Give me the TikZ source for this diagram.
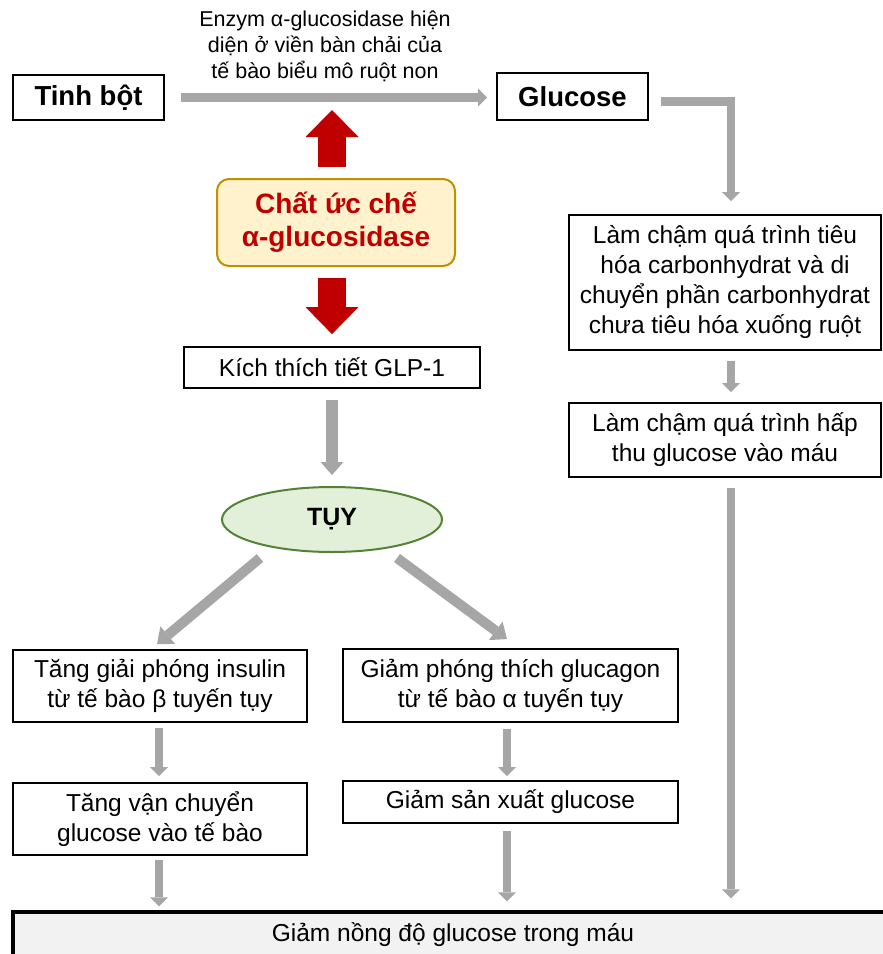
\documentclass[tikz,border=0pt]{standalone}
\usepackage{fontspec}
\setmainfont{Liberation Sans}
\usetikzlibrary{calc}
\usetikzlibrary{arrows.meta}
\usetikzlibrary {shapes.geometric}

\definecolor{flowgray}{HTML}{A6A6A6}
\definecolor{inhibred}{HTML}{C00000}
\definecolor{inhibfill}{HTML}{FFF2CC}
\definecolor{inhibline}{HTML}{BF9000}
\definecolor{tuyfill}{HTML}{E2F0D9}
\definecolor{tuyline}{HTML}{548235}
\definecolor{bloodfill}{HTML}{F2F2F2}

\tikzset{
    textbox/.style={draw=black, line width=1.8pt, fill=white, inner sep=0pt, align=center,
        font=\fontsize{24.5}{30}\selectfont},
    titlebox/.style={textbox, font=\fontsize{27.5}{33}\selectfont\bfseries},
    flowarrow/.style={draw=flowgray, line width=8.5pt, line join=miter,
        -{Triangle[width=18pt,length=9pt,line width=0pt]}},
    bigflow/.style={draw=flowgray, line width=12pt,
        -{Triangle[width=23pt,length=13pt,line width=0pt]}},
    sideflow/.style={draw=flowgray, line width=10pt,
        -{Triangle[width=23pt,length=14pt,line width=0pt]}},
    redarrow/.style={draw=inhibred, line width=28pt,
        -{Triangle[width=53pt,length=27pt,line width=0pt]}},
}

\begin{document}
\begin{tikzpicture}[x=1pt, y=-1pt]
    % Page of the reference
    \useasboundingbox (0,0) rectangle (883,954);
    \clip (0,0) rectangle (883,954);

    % Top row
    \node[titlebox, minimum width=151pt, minimum height=45pt] (tinh) at (88.5,97.5) {Tinh bột};
    \node[titlebox, minimum width=151pt, minimum height=47pt] (glucose) at (572.5,96.5) {Glucose};
    \node[align=center, font=\fontsize{21.5}{26}\selectfont] (enzym) at (325,46)
        {Enzym α-glucosidase hiện\\diện ở viền bàn chải của\\tế bào biểu mô ruột non};

    % Inhibitor and GLP-1
    \node[draw=inhibline, fill=inhibfill, line width=2pt, rounded corners=12pt,
        minimum width=238pt, minimum height=87pt, inner sep=0pt, align=center, text=inhibred,
        font=\fontsize{28}{33}\selectfont\bfseries] (inhib) at (336,222.5) {Chất ức chế\\α-glucosidase};
    \node[textbox, minimum width=296pt, minimum height=41pt] (glp) at (332,367.5) {Kích thích tiết GLP-1};
    \node[ellipse, draw=tuyline, fill=tuyfill, line width=2pt, minimum width=220pt,
        minimum height=65pt, inner sep=0pt, font=\fontsize{25}{30}\selectfont\bfseries] (tuy) at (332,519.5) {TỤY};

    % Right column
    \node[textbox, minimum width=312pt, minimum height=135pt] (slow1) at (725,282.5)
        {Làm chậm quá trình tiêu\\hóa carbonhydrat và di\\chuyển phần carbonhydrat\\chưa tiêu hóa xuống ruột};
    \node[textbox, minimum width=312pt, minimum height=74pt] (slow2) at (725,440)
        {Làm chậm quá trình hấp\\thu glucose vào máu};

    % Pancreas branches
    \node[textbox, minimum width=294pt, minimum height=72pt] (insulin) at (160,686)
        {Tăng giải phóng insulin\\từ tế bào β tuyến tụy};
    \node[textbox, minimum width=294pt, minimum height=72pt] (transport) at (160,819)
        {Tăng vận chuyển\\glucose vào tế bào};
    \node[textbox, minimum width=335pt, minimum height=73pt] (glucagon) at (510.5,685.5)
        {Giảm phóng thích glucagon\\từ tế bào α tuyến tụy};
    \node[textbox, minimum width=335pt, minimum height=42pt] (reduce) at (510.5,802)
        {Giảm sản xuất glucose};

    % Result
    \node[textbox, line width=3.5pt, fill=bloodfill, minimum width=880pt, minimum height=46pt] (blood) at (453,935)
        {Giảm nồng độ glucose trong máu};

    % Gray arrows
    \draw[flowarrow, shorten <=16pt, shorten >=9pt] (tinh.east) -- (tinh.east -| glucose.west);
    \draw[flowarrow] ([shift={(12,5)}]glucose.east) -| ([shift={(6,-13)}]slow1.north);
    \draw[flowarrow, shorten <=10pt, shorten >=10pt] ([xshift=6pt]slow1.south) -- ([xshift=6pt]slow2.north);
    \draw[flowarrow, shorten <=10pt, shorten >=12pt] ([xshift=6pt]slow2.south) -- ([xshift=6pt]slow2.south |- blood.north);
    \draw[bigflow, shorten <=11pt, shorten >=11pt] (glp.south) -- (tuy.north);
    \draw[sideflow] ($(tuy.center)+(-72,38.5)$) -- ($(insulin.north)+(-3,-5)$);
    \draw[sideflow] ($(tuy.center)+(65,38.5)$) -- ($(glucagon.north)+(-3.5,-9)$);
    \draw[flowarrow, shorten <=5pt, shorten >=6pt] ([xshift=-1pt]insulin.south) -- ([xshift=-1pt]transport.north);
    \draw[flowarrow, shorten <=4pt, shorten >=4pt] ([xshift=-1pt]transport.south) -- ([xshift=-1pt]transport.south |- blood.north);
    \draw[flowarrow, shorten <=6pt, shorten >=4pt] ([xshift=-3.5pt]glucagon.south) -- ([xshift=-3.5pt]reduce.north);
    \draw[flowarrow, shorten <=7pt, shorten >=9pt] ([xshift=-3.5pt]reduce.south) -- ([xshift=-3.5pt]reduce.south |- blood.north);

    % Red arrows of the inhibitor
    \draw[redarrow, shorten <=11pt, shorten >=12.5pt] ([xshift=-4pt]inhib.north) -- ([xshift=-4pt]inhib.north |- tinh.east);
    \draw[redarrow, shorten <=11pt, shorten >=12pt] ([xshift=-4pt]inhib.south) -- (glp.north);
\end{tikzpicture}
\end{document}
